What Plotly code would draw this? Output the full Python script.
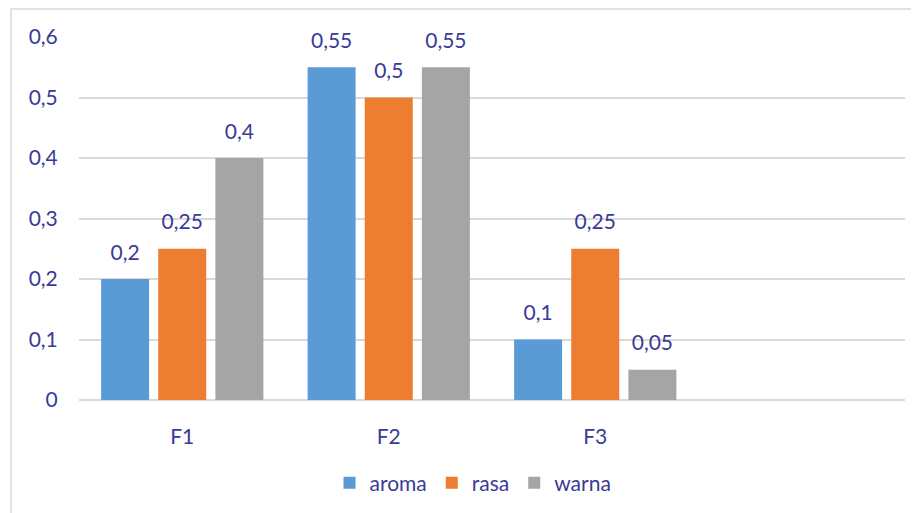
import plotly.graph_objects as go

categories = ["F1", "F2", "F3"]
aroma = [0.2, 0.55, 0.1]
rasa = [0.25, 0.5, 0.25]
warna = [0.4, 0.55, 0.05]
y_ticks = [0, 0.1, 0.2, 0.3, 0.4, 0.5, 0.6]

series = [("aroma", aroma, "#5B9BD5"), ("rasa", rasa, "#ED7D31"), ("warna", warna, "#A5A5A5")]
TXT = "#3A3A98"
FONT = "Lato, 'Open Sans', sans-serif"
FS = 21

xs = list(range(len(categories)))
fig = go.Figure()
for name, vals, col in series:
    labels = ["<span style='font-size:%dpx'>%s</span><br> " % (FS, str(v).replace(".", ",")) for v in vals]
    fig.add_trace(go.Bar(
        x=xs, y=vals, name=name, marker=dict(color=col, line=dict(width=0)),
        text=labels, textposition="outside", cliponaxis=False,
        textfont=dict(color=TXT, size=11, family=FONT),
    ))

fig.update_layout(
    width=911, height=505,
    margin=dict(l=71, r=14, t=29, b=113, autoexpand=False),
    paper_bgcolor="white", plot_bgcolor="white",
    separators=",.",
    barmode="group", bargap=0.17, bargroupgap=0.16,
    font=dict(family=FONT, color=TXT, size=FS),
    showlegend=True,
    legend=dict(orientation="h", x=0.477, xanchor="center", yref="container", y=0.0594, yanchor="middle",
                font=dict(size=FS, color=TXT), itemwidth=30, traceorder="normal"),
    xaxis=dict(range=[-0.5, 3.5], tickvals=xs, ticktext=categories, showgrid=False,
               zeroline=False, showline=False, ticks="outside", ticklen=18, automargin=False,
               tickcolor="rgba(0,0,0,0)", tickfont=dict(size=FS, color=TXT)),
    yaxis=dict(range=[0, 0.6], tickvals=y_ticks, automargin=False,
               ticktext=[str(v).replace(".", ",") for v in y_ticks],
               showgrid=True, gridcolor="#D9D9D9", gridwidth=1.5, zeroline=True,
               zerolinecolor="#D9D9D9", zerolinewidth=1.5,
               ticks="outside", ticklen=16, tickcolor="rgba(0,0,0,0)",
               tickfont=dict(size=FS, color=TXT)),
    shapes=[dict(type="rect", xref="paper", yref="paper", x0=-0.0823, x1=1.03, y0=-0.35, y1=1.0771,
                 line=dict(color="#D9D9D9", width=1.5), fillcolor="rgba(0,0,0,0)", layer="below")],
)

fig.write_html("out.html")
